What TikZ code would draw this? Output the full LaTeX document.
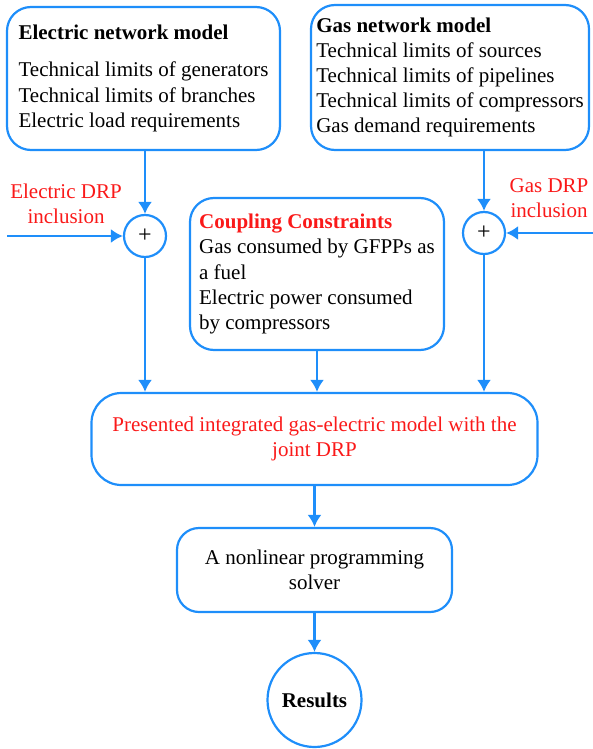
\documentclass[tikz,border=0pt]{standalone}
\usepackage{fontspec}
\setmainfont{Liberation Serif}
\usepackage{tikz}
\usetikzlibrary{shapes,arrows.meta}
\usetikzlibrary{calc}

\definecolor{lineblue}{RGB}{30,142,250}
\definecolor{textred}{RGB}{250,25,25}

\begin{document}
\begin{tikzpicture}[x=0.5pt,y=-0.5pt,
	>={Latex[length=6pt,width=7pt]},
	every node/.style={font=\fontsize{10.5}{12.6}\selectfont},
	model/.style={draw=lineblue,line width=1.1pt,rounded corners=12pt,align=left,inner sep=0pt},
	block/.style={draw=lineblue,line width=1.1pt,rounded corners=13pt,align=center},
	sum/.style={draw=lineblue,line width=1.1pt,circle,minimum size=21pt,inner sep=0pt,font=\fontsize{12}{12}\selectfont},
	drp/.style={text=textred,align=center,inner sep=1pt},
	arr/.style={->,draw=lineblue,line width=1.1pt}]
	\useasboundingbox (0,0) rectangle (593,749);
	
	% network models
	\node[model,minimum width=136.5pt,minimum height=71.5pt] (elec) at (143.5,78.5)
		{\textbf{Electric network model}\\[6pt]
		Technical limits of generators\\
		Technical limits of branches\\
		Electric load requirements};
	\node[model,minimum width=139pt,minimum height=72.5pt] (gas) at (450,77.5)
		{\textbf{Gas network model}\\
		Technical limits of sources\\
		Technical limits of pipelines\\
		Technical limits of compressors\\
		Gas demand requirements};
	
	% DRP inclusion
	\node[sum] (sumE) at (145,236) {+};
	\node[sum] (sumG) at (484,233) {+};
	\coordinate (inE) at (7,236);
	\coordinate (inG) at (593,233);
	\node[drp] (lblE) at (66,204) {Electric DRP\\inclusion};
	\node[drp] (lblG) at (549,198) {Gas DRP\\inclusion};
	
	\node[model,minimum width=127pt,minimum height=76pt] (coup) at (317,274)
		{\textcolor{textred}{\textbf{Coupling Constraints}}\\
		Gas consumed by GFPPs as\\
		a fuel\\
		Electric power consumed\\
		by compressors};
	
	% integrated model and solver
	\node[block,rounded corners=15pt,minimum width=223pt,minimum height=46pt,text=textred] (integ) at (314.5,439)
		{Presented integrated gas-electric model with the\\joint DRP};
	\node[block,rounded corners=11pt,minimum width=137.5pt,minimum height=42pt] (solver) at (314.5,570)
		{A nonlinear programming\\solver};
	\node[draw=lineblue,line width=1.1pt,circle,minimum size=47pt,inner sep=0pt] (res) at (314.5,700)
		{\textbf{Results}};
	
	\draw[arr] (sumE |- elec.south) -- (sumE);
	\draw[arr] (sumG |- gas.south) -- (sumG);
	\draw[arr] (inE) -- (sumE);
	\draw[arr] (inG) -- (sumG);
	\draw[arr] (sumE) -- (sumE |- integ.north);
	\draw[arr] (coup.south) -- (coup.south |- integ.north);
	\draw[arr] (sumG) -- (sumG |- integ.north);
	\draw[arr] (integ) -- (solver);
	\draw[arr] (solver) -- (res);
\end{tikzpicture}
\end{document}
